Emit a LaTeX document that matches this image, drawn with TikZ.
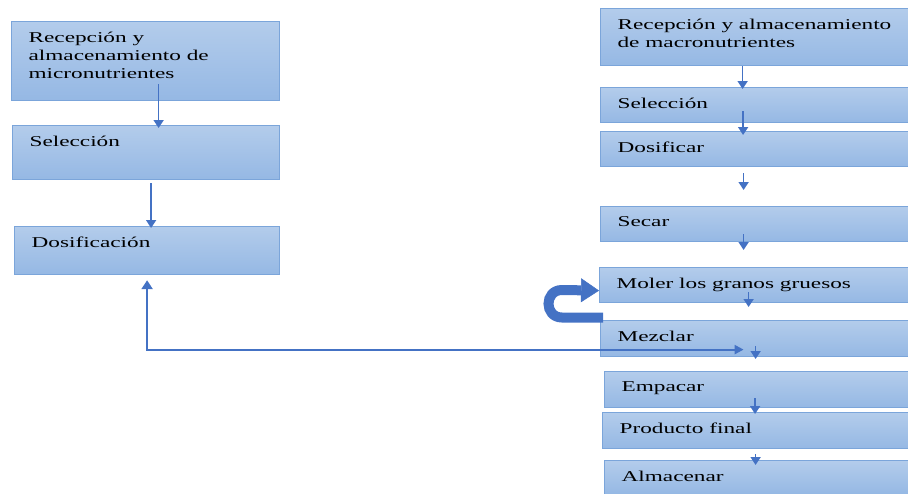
\documentclass[tikz,border=0pt]{standalone}
\usepackage{fontspec}
\setmainfont[FakeStretch=1.55]{Liberation Serif}
\usetikzlibrary{arrows.meta}
\definecolor{boxtop}{HTML}{B3CCEB}
\definecolor{boxbottom}{HTML}{95B8E4}
\definecolor{boxline}{HTML}{7BA5DA}
\definecolor{flowblue}{HTML}{4472C4}
\newcommand{\stepbox}[5]{%
 \node[procbox] ({#1}) at ({#2}) {%
  \parbox[c][\dimexpr#4-20pt\relax][t]{\dimexpr#3-34pt\relax}{\raggedright #5}%
 };%
}

\begin{document}
\begin{tikzpicture}[x=1pt,y=-1pt,
  procbox/.style={draw=boxline, line width=1.2pt, top color=boxtop, bottom color=boxbottom,
    anchor=north west, inner xsep=17pt, inner ysep=10pt, font=\fontsize{15}{18}\selectfont},
  flow/.style={draw=flowblue, line width=1.7pt, -{Triangle[width=10pt,length=8pt]}},
  fbline/.style={draw=flowblue, line width=2.2pt,
    {Triangle[width=11pt,length=9pt]}-{Triangle[width=9pt,length=9pt]}},
  uturn/.style={draw=flowblue, line width=10pt,
    -{Triangle[width=24pt,length=18pt,line width=0.5pt]}}]
  \useasboundingbox (0,0) rectangle (908,493);
  \stepbox{mic1}{11,21}{268pt}{79pt}{Recepción y\\ almacenamiento de\\ micronutrientes}
  \stepbox{mic2}{12,125}{267pt}{54pt}{Selección}
  \stepbox{mic3}{14,226}{265pt}{48pt}{Dosificación}
  \stepbox{mac1}{600,8}{308pt}{57pt}{Recepción y almacenamiento\\ de macronutrientes}
  \stepbox{mac2}{600,87}{308pt}{35pt}{Selección}
  \stepbox{mac3}{600,131}{308pt}{35pt}{Dosificar}
  \stepbox{mac4}{600,206}{308pt}{35pt}{Secar}
  \stepbox{mac5}{599,267}{309pt}{35pt}{Moler los granos gruesos}
  \stepbox{mac6}{600,320}{308pt}{36pt}{Mezclar}
  \stepbox{mac7}{604,371}{304pt}{36pt}{Empacar}
  \stepbox{mac8}{602,412}{306pt}{36pt}{Producto final}
  \stepbox{mac9}{604,460}{304pt}{34pt}{Almacenar}
  \draw[flow] ([xshift=13pt,yshift=17pt]mic1.south) -- ([xshift=12.5pt,yshift=-3pt]mic2.north);
  \draw[flow] ([xshift=5pt,yshift=-3pt]mic2.south) -- ([xshift=4pt,yshift=-2pt]mic3.north);
  \draw[flow] ([xshift=-12pt]mac1.south) -- ([xshift=-12pt,yshift=-2pt]mac2.north);
  \draw[flow] ([xshift=-11.5pt,yshift=12pt]mac2.south) -- ([xshift=-11.5pt,yshift=-4pt]mac3.north);
  \draw[flow] ([xshift=-11pt,yshift=-6pt]mac3.south) -- ([xshift=-11pt,yshift=16pt]mac4.north);
  \draw[flow] ([xshift=-11pt,yshift=8pt]mac4.south) -- ([xshift=-10.5pt,yshift=17pt]mac5.north);
  \draw[flow] ([xshift=-5.5pt,yshift=11pt]mac5.south) -- ([xshift=-6pt,yshift=13pt]mac6.north);
  \draw[flow] ([xshift=1pt,yshift=11pt]mac6.south) -- ([xshift=-1pt,yshift=12pt]mac7.north);
  \draw[flow] ([xshift=-1.5pt,yshift=10pt]mac7.south) -- ([xshift=-0.5pt,yshift=-2pt]mac8.north);
  \draw[flow] ([yshift=-5pt]mac8.south) -- ([xshift=-1pt,yshift=-5pt]mac9.north);
  \draw[fbline] ([yshift=-5pt]mic3.south) |- ([xshift=-11pt,yshift=-11pt]mac6.center);
  \draw[uturn] ([xshift=3pt,yshift=2.5pt]mac6.north west) -- (562,317.5)
    .. controls (544,317.5) and (544,290) .. (562,290) -- ([yshift=-5.5pt]mac5.west);
\end{tikzpicture}
\end{document}
